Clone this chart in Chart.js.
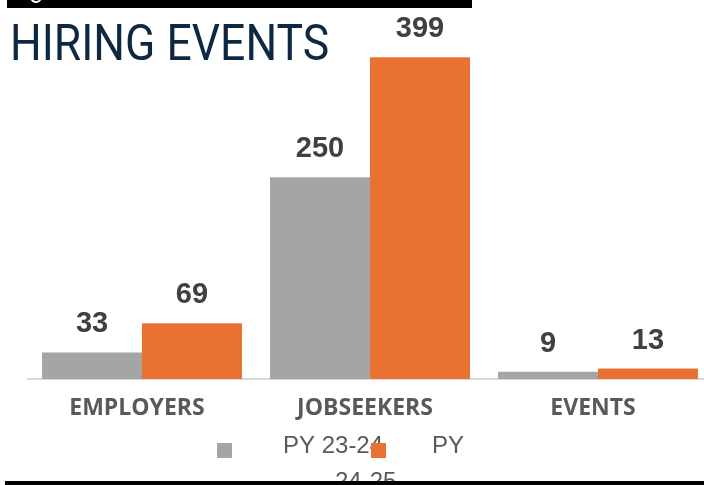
<!DOCTYPE html>
<html>
<head>
<meta charset="utf-8">
<script src="https://cdn.jsdelivr.net/npm/chart.js@4"></script>
<style>
  html, body { margin: 0; padding: 0; background: #fff; overflow: hidden; }
  #wrap { position: absolute; left: 0; top: 0; width: 712px; height: 485px; }
</style>
</head>
<body>
<div id="wrap"><canvas id="chart"></canvas></div>
<script>
var CATEGORIES = ['EMPLOYERS', 'JOBSEEKERS', 'EVENTS'];
var PY2324 = [33, 250, 9];
var PY2425 = [69, 399, 13];
var SERIES = ['PY 23-24', 'PY 24-25'];
var COLORS = ['#a5a5a5', '#e97132'];

var ctx = document.getElementById('chart');

// value labels over each bar
var valueLabels = {
  id: 'valueLabels',
  afterDatasetsDraw: function(chart) {
    var c = chart.ctx;
    c.save();
    c.font = 'bold 29px "Liberation Sans", Arial, sans-serif';
    c.fillStyle = '#404040';
    c.textAlign = 'center';
    c.textBaseline = 'alphabetic';
    chart.data.datasets.forEach(function(ds, i) {
      chart.getDatasetMeta(i).data.forEach(function(bar, j) {
        c.fillText(ds.data[j], bar.x, bar.y - 20);
      });
    });
    c.restore();
  }
};

// title, frame strips and the (broken) legend
var decor = {
  id: 'decor',
  afterDraw: function(chart) {
    var c = chart.ctx;
    c.save();
    c.fillStyle = '#000';
    c.fillRect(7, 0, 465, 8);
    c.beginPath();
    c.arc(36, -3, 5, 0.3, Math.PI - 0.3);
    c.lineWidth = 2;
    c.strokeStyle = '#fff';
    c.stroke();

    c.save();
    c.translate(10, 60);
    c.scale(0.89, 1);
    c.font = '50px Roboto, sans-serif';
    c.fillStyle = '#0e2841';
    c.textBaseline = 'alphabetic';
    c.fillText('HIRING EVENTS', 0, 0);
    c.restore();

    c.font = '24px "Liberation Sans", Arial, sans-serif';
    c.fillStyle = '#595959';
    c.textBaseline = 'alphabetic';
    c.fillText(chart.data.datasets[0].label, 283, 453);
    var parts = chart.data.datasets[1].label.split(' ');
    c.fillText(parts[0], 432, 453);
    c.fillText(parts[1], 335, 489);
    c.fillStyle = chart.data.datasets[0].backgroundColor;
    c.fillRect(217, 443, 15, 15);
    c.fillStyle = chart.data.datasets[1].backgroundColor;
    c.fillRect(371, 443, 15, 15);

    c.fillStyle = '#000';
    c.fillRect(5, 481, 710, 4);
    c.restore();
  }
};

var chart = new Chart(ctx, {
  type: 'bar',
  data: {
    labels: CATEGORIES,
    datasets: [{
      label: SERIES[0],
      data: PY2324,
      backgroundColor: COLORS[0],
      categoryPercentage: 0.877,
      barPercentage: 1
    }, {
      label: SERIES[1],
      data: PY2425,
      backgroundColor: COLORS[1],
      categoryPercentage: 0.877,
      barPercentage: 1
    }]
  },
  options: {
    responsive: true,
    maintainAspectRatio: false,
    animation: false,
    layout: { padding: { left: 28, top: 16, right: 0, bottom: 0 } },
    plugins: {
      legend: { display: false },
      tooltip: { enabled: false }
    },
    scales: {
      y: { display: false, min: 0, max: 450 },
      x: {
        grid: { display: false, drawTicks: false },
        border: { display: true, color: '#d9d9d9', width: 2 },
        ticks: {
          color: '#595959',
          font: { family: '"Open Sans", sans-serif', size: 23, weight: 'bold' },
          padding: 16,
          labelOffset: -5
        },
        afterFit: function(s) { s.height = 106; }
      }
    }
  },
  plugins: [valueLabels, decor]
});
</script>
</body>
</html>
